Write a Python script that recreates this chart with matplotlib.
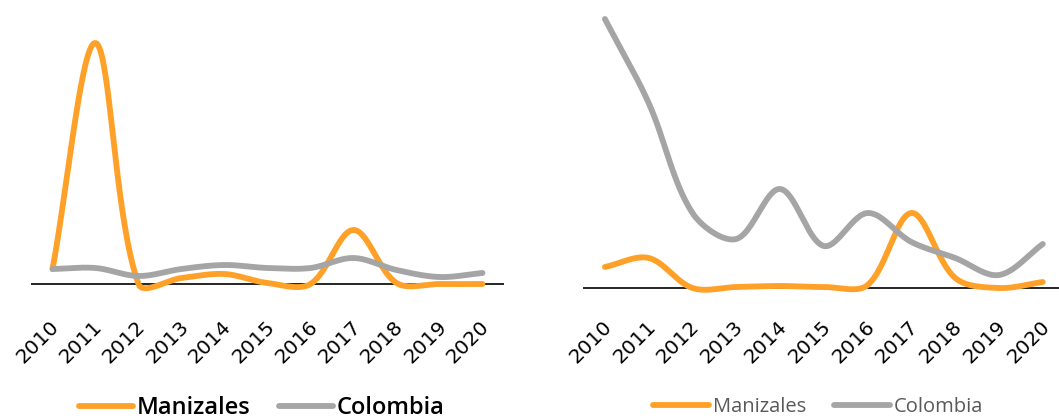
import numpy as np
import matplotlib.pyplot as plt
from matplotlib.transforms import ScaledTranslation

years = list(range(2010, 2021))

# left panel
man_left = [15, 241, 0, 6, 10, 1, 0, 54, 1, 0, 0]
col_left = [15, 16, 8, 15, 19, 16, 16, 26, 14, 7, 11]

# right panel
man_right = [21, 30, 0, 1, 2, 1, 3, 75, 10, 0, 6]
col_right = [269, 185, 75, 49, 99, 42, 75, 46, 30, 13, 44]

orange = "#FFA128"
grey = "#A5A5A5"
font = ["Open Sans", "DejaVu Sans"]


def smooth(x, y, sx, n=40):
    # Excel-like smoothed line: bezier segments, control points scaled by segment lengths
    p = np.column_stack([np.asarray(x, float) * sx, np.asarray(y, float)])
    pts = np.vstack([p[0], p, p[-1]])
    out = []
    t = np.linspace(0, 1, n)[:, None]
    for i in range(1, len(pts) - 2):
        p0, p1, p2, p3 = pts[i - 1], pts[i], pts[i + 1], pts[i + 2]
        d01 = np.linalg.norm(p1 - p0)
        d12 = np.linalg.norm(p2 - p1)
        d23 = np.linalg.norm(p3 - p2)
        f1 = d12 / (d01 + d12) / 3 if d01 + d12 > 0 else 0
        f2 = d12 / (d12 + d23) / 3 if d12 + d23 > 0 else 0
        c1 = p1 + (p2 - p0) * f1
        c2 = p2 - (p3 - p1) * f2
        seg = (1 - t) ** 3 * p1 + 3 * (1 - t) ** 2 * t * c1 + 3 * (1 - t) * t ** 2 * c2 + t ** 3 * p2
        out.append(seg if i == 1 else seg[1:])
    out = np.vstack(out)
    return out[:, 0] / sx, out[:, 1]


W, H = 1059, 419
fig = plt.figure(figsize=(W / 100, H / 100), dpi=100)


def panel(left, right, top, bottom, xmax, ylim, man, col, sx):
    ax = fig.add_axes([left / W, 1 - bottom / H, (right - left) / W, (bottom - top) / H])
    for vals, c in [(man, orange), (col, grey)]:
        xs, ys = smooth(years, vals, sx)
        ax.plot(xs, ys, color=c, lw=4.2, solid_capstyle="round")
    ax.axhline(0, color="black", lw=1.2, zorder=0)
    ax.set_xlim(2009.5, xmax)
    ax.set_ylim(*ylim)
    ax.set_xticks(years)
    ax.set_xticklabels([str(y) for y in years], rotation=45, ha="right", va="center",
                       rotation_mode="anchor", fontsize=14.5, family="DejaVu Sans")
    ax.tick_params(axis="x", length=0, pad=17)
    shift = ScaledTranslation(4 / 100, 0, fig.dpi_scale_trans)
    for lab in ax.get_xticklabels():
        lab.set_transform(lab.get_transform() + shift)
    ax.set_yticks([])
    for s in ax.spines.values():
        s.set_visible(False)
    ax.patch.set_alpha(0)
    return ax


ax1 = panel(31, 504, 10, 300, 2020.5, (-16, 274), man_left, col_left, 43.0)
ax2 = panel(583, 1059, 5, 300, 2020.37, (-12, 283), man_right, col_right, 43.8)

leg1 = ax1.legend(["Manizales", "Colombia"], loc="center", ncol=2, frameon=False,
                  bbox_to_anchor=(262 / W, 11 / H), bbox_transform=fig.transFigure,
                  prop={"family": font, "size": 17, "weight": "semibold"},
                  handlelength=2.3, handletextpad=0.15, columnspacing=1.2)
for t in leg1.get_texts():
    t.set_color("black")

leg2 = ax2.legend(["Manizales", "Colombia"], loc="center", ncol=2, frameon=False,
                  bbox_to_anchor=(818 / W, 12 / H), bbox_transform=fig.transFigure,
                  prop={"family": font, "size": 14.5},
                  handlelength=2.8, handletextpad=0.2, columnspacing=1.35)
for t in leg2.get_texts():
    t.set_color("#595959")

fig.savefig("out.png", dpi=100)
